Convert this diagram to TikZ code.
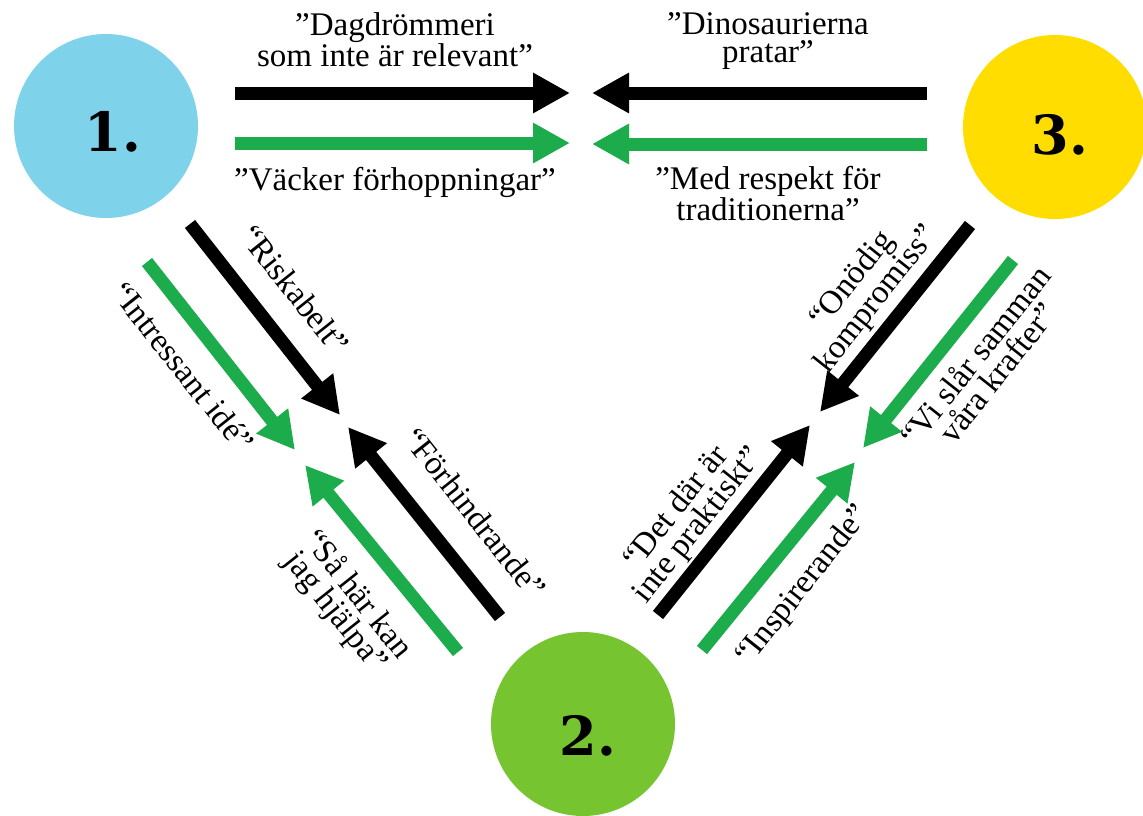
\documentclass[tikz,border=0pt]{standalone}
\usepackage{fontspec}
\setmainfont{Liberation Serif}
\newfontfamily\siffror{DejaVu Serif}
\usetikzlibrary{arrows.meta}

\definecolor{blaa}{RGB}{126,211,234}
\definecolor{gron}{RGB}{118,196,48}
\definecolor{gul}{RGB}{255,221,0}
\definecolor{pilgron}{RGB}{29,172,75}

\tikzset{
  pil/.style={line width=13pt,-{Triangle[length=37pt,width=38pt]}},
  cirkel/.style={circle,minimum size=184pt,inner sep=0pt},
  siffra/.style={font=\siffror\bfseries\fontsize{54}{54}\selectfont},
  citat/.style={align=center,inner sep=0pt,font=\fontsize{33}{28}\selectfont},
}

\begin{document}
\begin{tikzpicture}[x=1pt,y=-1pt]
  \useasboundingbox (0,0) rectangle (1143,816);

  % the three circles
  \node[cirkel,fill=blaa] (c1) at (106,126) {};
  \node[cirkel,fill=gul]  (c3) at (1055,127) {};
  \node[cirkel,fill=gron] (c2) at (583,724) {};
  \node[siffra] (n1) at (113,132) {1.};
  \node[siffra] (n3) at (1060,135) {3.};
  \node[siffra] (n2) at (588,736) {2.};

  % arrows between 1 and 3
  \coordinate (d0) at (235,93);  \coordinate (d1) at (570,93);
  \coordinate (v0) at (235,143); \coordinate (v1) at (570,143);
  \coordinate (p0) at (927,93);  \coordinate (p1) at (592,93);
  \coordinate (t0) at (927,144); \coordinate (t1) at (592,144);
  \draw[pil] (d0) -- (d1);
  \draw[pil,pilgron] (v0) -- (v1);
  \draw[pil] (p0) -- (p1);
  \draw[pil,pilgron] (t0) -- (t1);

  % arrows between 1 and 2
  \coordinate (r0) at (190,224); \coordinate (r1) at (340,415);
  \coordinate (i0) at (147,262); \coordinate (i1) at (295,450);
  \coordinate (f0) at (500,617); \coordinate (f1) at (348,427);
  \coordinate (s0) at (458,652); \coordinate (s1) at (305,465);
  \draw[pil] (r0) -- (r1);
  \draw[pil,pilgron] (i0) -- (i1);
  \draw[pil] (f0) -- (f1);
  \draw[pil,pilgron] (s0) -- (s1);

  % arrows between 3 and 2
  \coordinate (o0) at (970,225);  \coordinate (o1) at (820,412);
  \coordinate (k0) at (1013,260); \coordinate (k1) at (863,448);
  \coordinate (e0) at (658,615);  \coordinate (e1) at (810,425);
  \coordinate (n0) at (702,650);  \coordinate (nn) at (855,462);
  \draw[pil] (o0) -- (o1);
  \draw[pil,pilgron] (k0) -- (k1);
  \draw[pil] (e0) -- (e1);
  \draw[pil,pilgron] (n0) -- (nn);

  % labels
  \node[citat] (dag) at (395,40) {”Dagdrömmeri\\som inte är relevant”};
  \node[citat,anchor=base] (vack) at (395,190) {”Väcker förhoppningar”};
  \node[citat] (dino) at (768,41) {”Dinosaurierna\\pratar”};
  \node[citat] (med) at (768,194) {”Med respekt för\\traditionerna”};
  \node[citat,rotate=-51.5] (risk) at (295,290) {“Riskabelt”};
  \node[citat,rotate=-51.5] (intr) at (183,367) {“Intressant idé”};
  \node[citat,rotate=-51.5] (forh) at (475,513) {“Förhindrande”};
  \node[citat,rotate=-51.5] (saha) at (346,604) {“Så här kan\\jag hjälpa”};
  \node[citat,rotate=51.5] (onod) at (865,290) {“Onödig\\kompromiss”};
  \node[citat,rotate=51.5] (visl) at (986,364) {“Vi slår samman\\våra krafter”};
  \node[citat,rotate=51.5] (detd) at (688,517) {“Det där är\\inte praktiskt”};
  \node[citat,rotate=51.5] (insp) at (804,586) {“Inspirerande”};
\end{tikzpicture}
\end{document}
